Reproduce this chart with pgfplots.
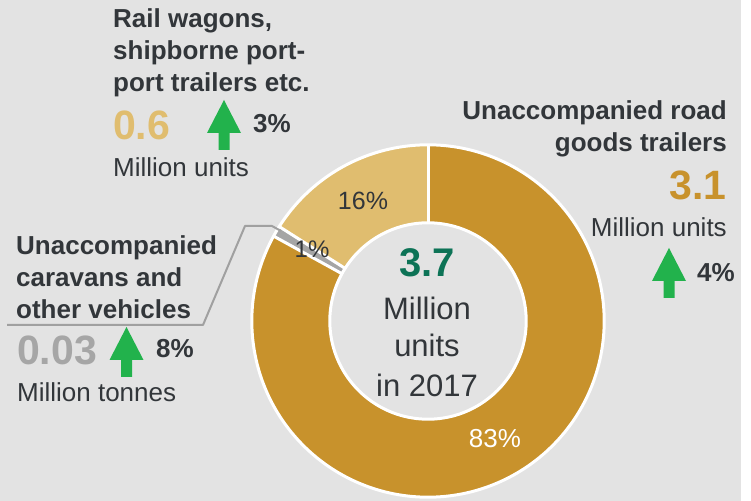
\documentclass[border=0pt]{standalone}
\usepackage{pgfplots}
\pgfplotsset{compat=1.18}
\usepgfplotslibrary{polar}
\usepackage{fontspec}
\setmainfont{Liberation Sans}
\definecolor{bg}{HTML}{E3E3E3}
\definecolor{goldD}{HTML}{C8922C}
\definecolor{goldL}{HTML}{E0BD6F}
\definecolor{segG}{HTML}{A5A5A5}
\definecolor{txt}{HTML}{32363A}
\definecolor{titleG}{HTML}{0D7356}
\definecolor{arrowG}{HTML}{22B24C}
\definecolor{numG}{HTML}{A6A6A6}
\definecolor{leader}{HTML}{A0A0A0}
% shares in percent (clockwise from the top)
\def\pRoad{83}
\def\pCar{1}
\def\pRail{16}
\pgfmathsetmacro{\aA}{90}
\pgfmathsetmacro{\aB}{90-3.6*\pRoad}
\pgfmathsetmacro{\aC}{\aB-3.6*\pCar}
\pgfmathsetmacro{\aD}{\aC-3.6*\pRail}
\newcommand\hb{\fontsize{26bp}{31.5bp}\selectfont\bfseries}
\newcommand\hr{\fontsize{26bp}{31.5bp}\selectfont}
\newcommand\bignum{\fontsize{41bp}{45bp}\selectfont\bfseries}
\newcommand\arrowup[3]{% cx, top, bottom
  \fill[arrowG] (#1,#2) -- ({#1+17},{#2+33}) -- ({#1+5.5},{#2+33}) -- ({#1+5.5},#3) -- ({#1-5.5},#3) -- ({#1-5.5},{#2+33}) -- ({#1-17},{#2+33}) -- cycle;}
\begin{document}
\begin{tikzpicture}
\begin{axis}[at={(0,0)}, anchor=south west, scale only axis, width=751bp, height=501bp,
  xmin=0, xmax=751, ymin=0, ymax=501, y dir=reverse, hide axis, clip=false]
  \fill[white] (axis cs:0,0) rectangle (axis cs:751,501);
  \fill[bg] (axis cs:0,0) rectangle (axis cs:741,501);
\end{axis}
\begin{polaraxis}[at={(428bp,180bp)}, anchor=center, scale only axis, width=352bp, height=352bp,
  ymin=0, ymax=176, hide axis, clip=false]
  \addplot[goldD, line width=77.5bp, line cap=butt, domain=\aB:\aA, samples=240] {137.25};
  \addplot[segG, line width=77.5bp, line cap=butt, domain=\aC:\aB, samples=10] {137.25};
  \addplot[goldL, line width=77.5bp, line cap=butt, domain=\aD:\aC, samples=80] {137.25};
  \addplot[white, line width=3bp, domain=0:360, samples=361] {176.2};
  \addplot[white, line width=3bp, domain=0:360, samples=361] {98.2};
  \addplot[white, line width=3bp] coordinates {(\aA,97) (\aA,177)};
  \addplot[white, line width=3bp] coordinates {(\aB,97) (\aB,177)};
  \addplot[white, line width=3bp] coordinates {(\aC,97) (\aC,177)};
\end{polaraxis}
\begin{scope}[x=1bp, y=-1bp, shift={(0bp,501bp)}, every node/.style={inner sep=0pt, text=txt}]
  % leader line
  \draw[leader, line width=2bp, line join=round] (7,325) -- (203,325) -- (245,226) -- (272,226) -- (281,231);
  % ring labels
  \node[anchor=base] at (363,210) {\fontsize{25bp}{30bp}\selectfont 16\%};
  \node[anchor=base] at (312,258) {\fontsize{24bp}{30bp}\selectfont 1\%};
  \node[anchor=base, text=white] at (495,448) {\fontsize{26bp}{30bp}\selectfont 83\%};
  % centre
  \node[anchor=base, text=titleG] at (427,277) {\fontsize{40bp}{44bp}\selectfont\bfseries 3.7};
  \node[anchor=base] at (427,320) {\fontsize{31bp}{36bp}\selectfont Million};
  \node[anchor=base] at (427,357) {\fontsize{31bp}{36bp}\selectfont units};
  \node[anchor=base] at (427,397) {\fontsize{31bp}{36bp}\selectfont in 2017};
  % top left block
  \node[anchor=base west] at (113,28) {\hb Rail wagons,};
  \node[anchor=base west] at (113,60) {\hb shipborne port-};
  \node[anchor=base west] at (113,92) {\hb port trailers etc.};
  \node[anchor=base west, text=goldL] at (113,140) {\bignum 0.6};
  \arrowup{224}{100}{150}
  \node[anchor=base west] at (253,133) {\hb 3\%};
  \node[anchor=base west] at (113,177) {\hr Million units};
  % right block
  \node[anchor=base east] at (727,120) {\hb Unaccompanied road};
  \node[anchor=base east] at (727,152) {\hb goods trailers};
  \node[anchor=base east, text=goldD] at (727,200) {\bignum 3.1};
  \node[anchor=base east] at (727,237) {\hr Million units};
  \arrowup{669}{248}{298}
  \node[anchor=base east] at (735,282) {\hb 4\%};
  % lower left block
  \node[anchor=base west] at (16,255) {\hb Unaccompanied};
  \node[anchor=base west] at (16,287) {\hb caravans and};
  \node[anchor=base west] at (16,319) {\hb other vehicles};
  \node[anchor=base west, text=numG] at (17,365) {\bignum 0.03};
  \arrowup{126.5}{327}{377}
  \node[anchor=base west] at (156,358) {\hb 8\%};
  \node[anchor=base west] at (17,402) {\hr Million tonnes};
\end{scope}
\end{tikzpicture}
\end{document}
